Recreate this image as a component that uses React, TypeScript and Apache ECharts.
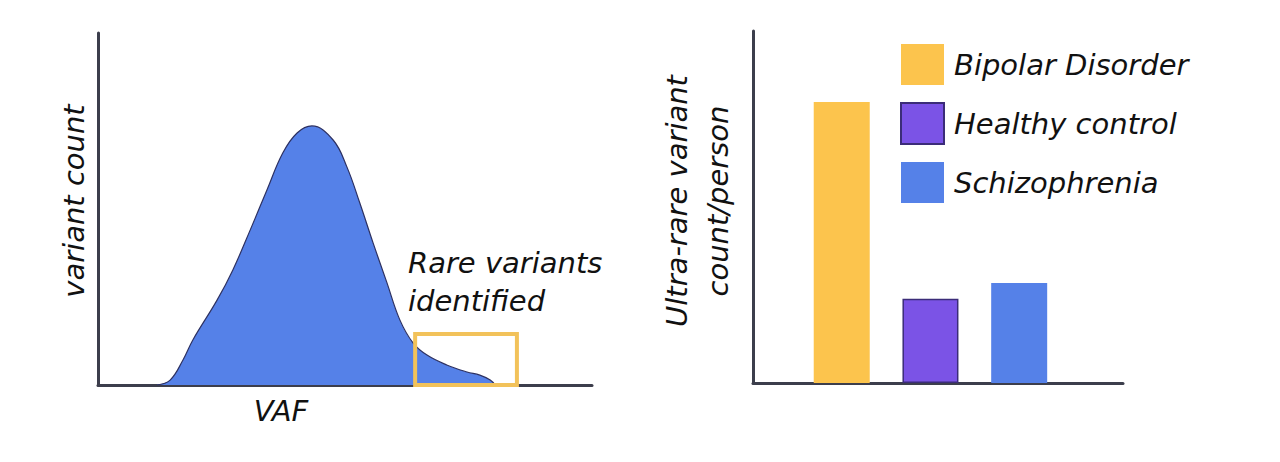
import React, { useEffect, useRef } from "react";
import * as echarts from "echarts";

// Left panel: VAF distribution (arbitrary units)
const vafX = [11.9, 14.6, 17.2, 19.2, 24.1, 27.3, 30.8, 34.2, 37.4, 40.3, 43.3, 47.6, 50.4, 53.0, 55.7, 58.5, 61.1, 63.8, 66.6, 70.6, 74.7, 77.3, 79.4, 80.4];
const variantCount = [0, 1.4, 7.1, 12.8, 24.1, 32.7, 44.0, 55.4, 65.9, 71.6, 73.6, 69.6, 61.9, 51.7, 40.3, 29.0, 18.5, 11.9, 8.5, 5.7, 3.7, 2.8, 1.4, 0];
const rareBox = { x0: 64.2, x1: 84.8, y0: 0, y1: 14.5 };
const rareLabel = "Rare variants\nidentified";

// Right panel: ultra-rare variant count / person
const groups = ["Bipolar Disorder", "Healthy control", "Schizophrenia"];
const groupPos = [1, 2, 3];
const groupValues = [7.98, 2.39, 2.84];
const groupColors = ["#FCC44D", "#7B53E6", "#5581E8"];
const groupBorders = ["#FCC44D", "#3B2C78", "#5581E8"];

const FONT = "DejaVu Sans";
const AXIS_COLOR = "#3c3e4c";

export default function App() {
  const ref = useRef<HTMLDivElement>(null);
  useEffect(() => {
    if (!ref.current) return;
    const chart = echarts.init(ref.current, undefined, { renderer: "svg" });
    const axisLine = { show: true, lineStyle: { color: AXIS_COLOR, width: 3 } };
    const nameStyle = { fontFamily: FONT, fontStyle: "italic", fontSize: 29, color: "#111" };
    const hidden = { axisTick: { show: false }, axisLabel: { show: false }, splitLine: { show: false } };
    const rectPath = [
      [rareBox.x0, rareBox.y0],
      [rareBox.x0, rareBox.y1],
      [rareBox.x1, rareBox.y1],
      [rareBox.x1, rareBox.y0],
      [rareBox.x0, rareBox.y0],
    ];
    chart.setOption({
      animation: false,
      backgroundColor: "#ffffff",
      grid: [
        { left: 98, top: 33, width: 494, height: 352 },
        { left: 753, top: 31, width: 370, height: 352 },
      ],
      xAxis: [
        {
          type: "value", gridIndex: 0, min: 0, max: 100, axisLine, ...hidden,
          name: "VAF", nameLocation: "middle", nameGap: 11,
          nameTextStyle: { ...nameStyle, padding: [0, 128, 0, 0] },
        },
        { type: "value", gridIndex: 1, min: 0, max: 4.17, axisLine, ...hidden },
      ],
      yAxis: [
        {
          type: "value", gridIndex: 0, min: 0, max: 100, axisLine, ...hidden,
          name: "variant count", nameLocation: "middle", nameRotate: 90, nameGap: 10,
          nameTextStyle: { ...nameStyle, padding: [0, 0, 0, 16] },
        },
        {
          type: "value", gridIndex: 1, min: 0, max: 10, axisLine, ...hidden,
          name: "Ultra-rare variant\ncount/person", nameLocation: "middle", nameRotate: 90, nameGap: 15,
          nameTextStyle: { ...nameStyle, lineHeight: 41, padding: [0, 0, 0, 12] },
        },
      ],
      legend: {
        orient: "vertical",
        left: 895,
        top: 39,
        itemWidth: 43,
        itemHeight: 41,
        itemGap: 17,
        icon: "rect",
        data: groups,
        textStyle: { ...nameStyle, padding: [0, 0, 0, 5] },
      },
      graphic: [
        {
          type: "text",
          left: 408,
          top: 244,
          style: { text: rareLabel, fontFamily: FONT, fontStyle: "italic", fontSize: 29, lineHeight: 38, fill: "#111" },
        },
      ],
      series: [
        {
          type: "line",
          xAxisIndex: 0,
          yAxisIndex: 0,
          data: vafX.map((x, i) => [x, variantCount[i]]),
          smooth: 0.4,
          symbol: "none",
          lineStyle: { color: "#2d3162", width: 1.2 },
          areaStyle: { color: "#5581E8", opacity: 1 },
          z: 2,
          silent: true,
        },
        {
          type: "line",
          xAxisIndex: 0,
          yAxisIndex: 0,
          data: rectPath,
          symbol: "none",
          lineStyle: { color: "#F2C25A", width: 4, join: "miter", cap: "square" },
          z: 3,
          silent: true,
        },
        ...groups.map((g, i) => ({
          type: "bar",
          name: g,
          xAxisIndex: 1,
          yAxisIndex: 1,
          data: [[groupPos[i], groupValues[i]]],
          barWidth: 56,
          barGap: "-100%",
          itemStyle: { color: groupColors[i], borderColor: groupBorders[i], borderWidth: i === 1 ? 1.5 : 0 },
        })),
      ],
    });
    return () => chart.dispose();
  }, []);
  return (
    <div
      ref={ref}
      style={{ position: "absolute", left: 0, top: 0, width: 1280, height: 462 }}
    />
  );
}
